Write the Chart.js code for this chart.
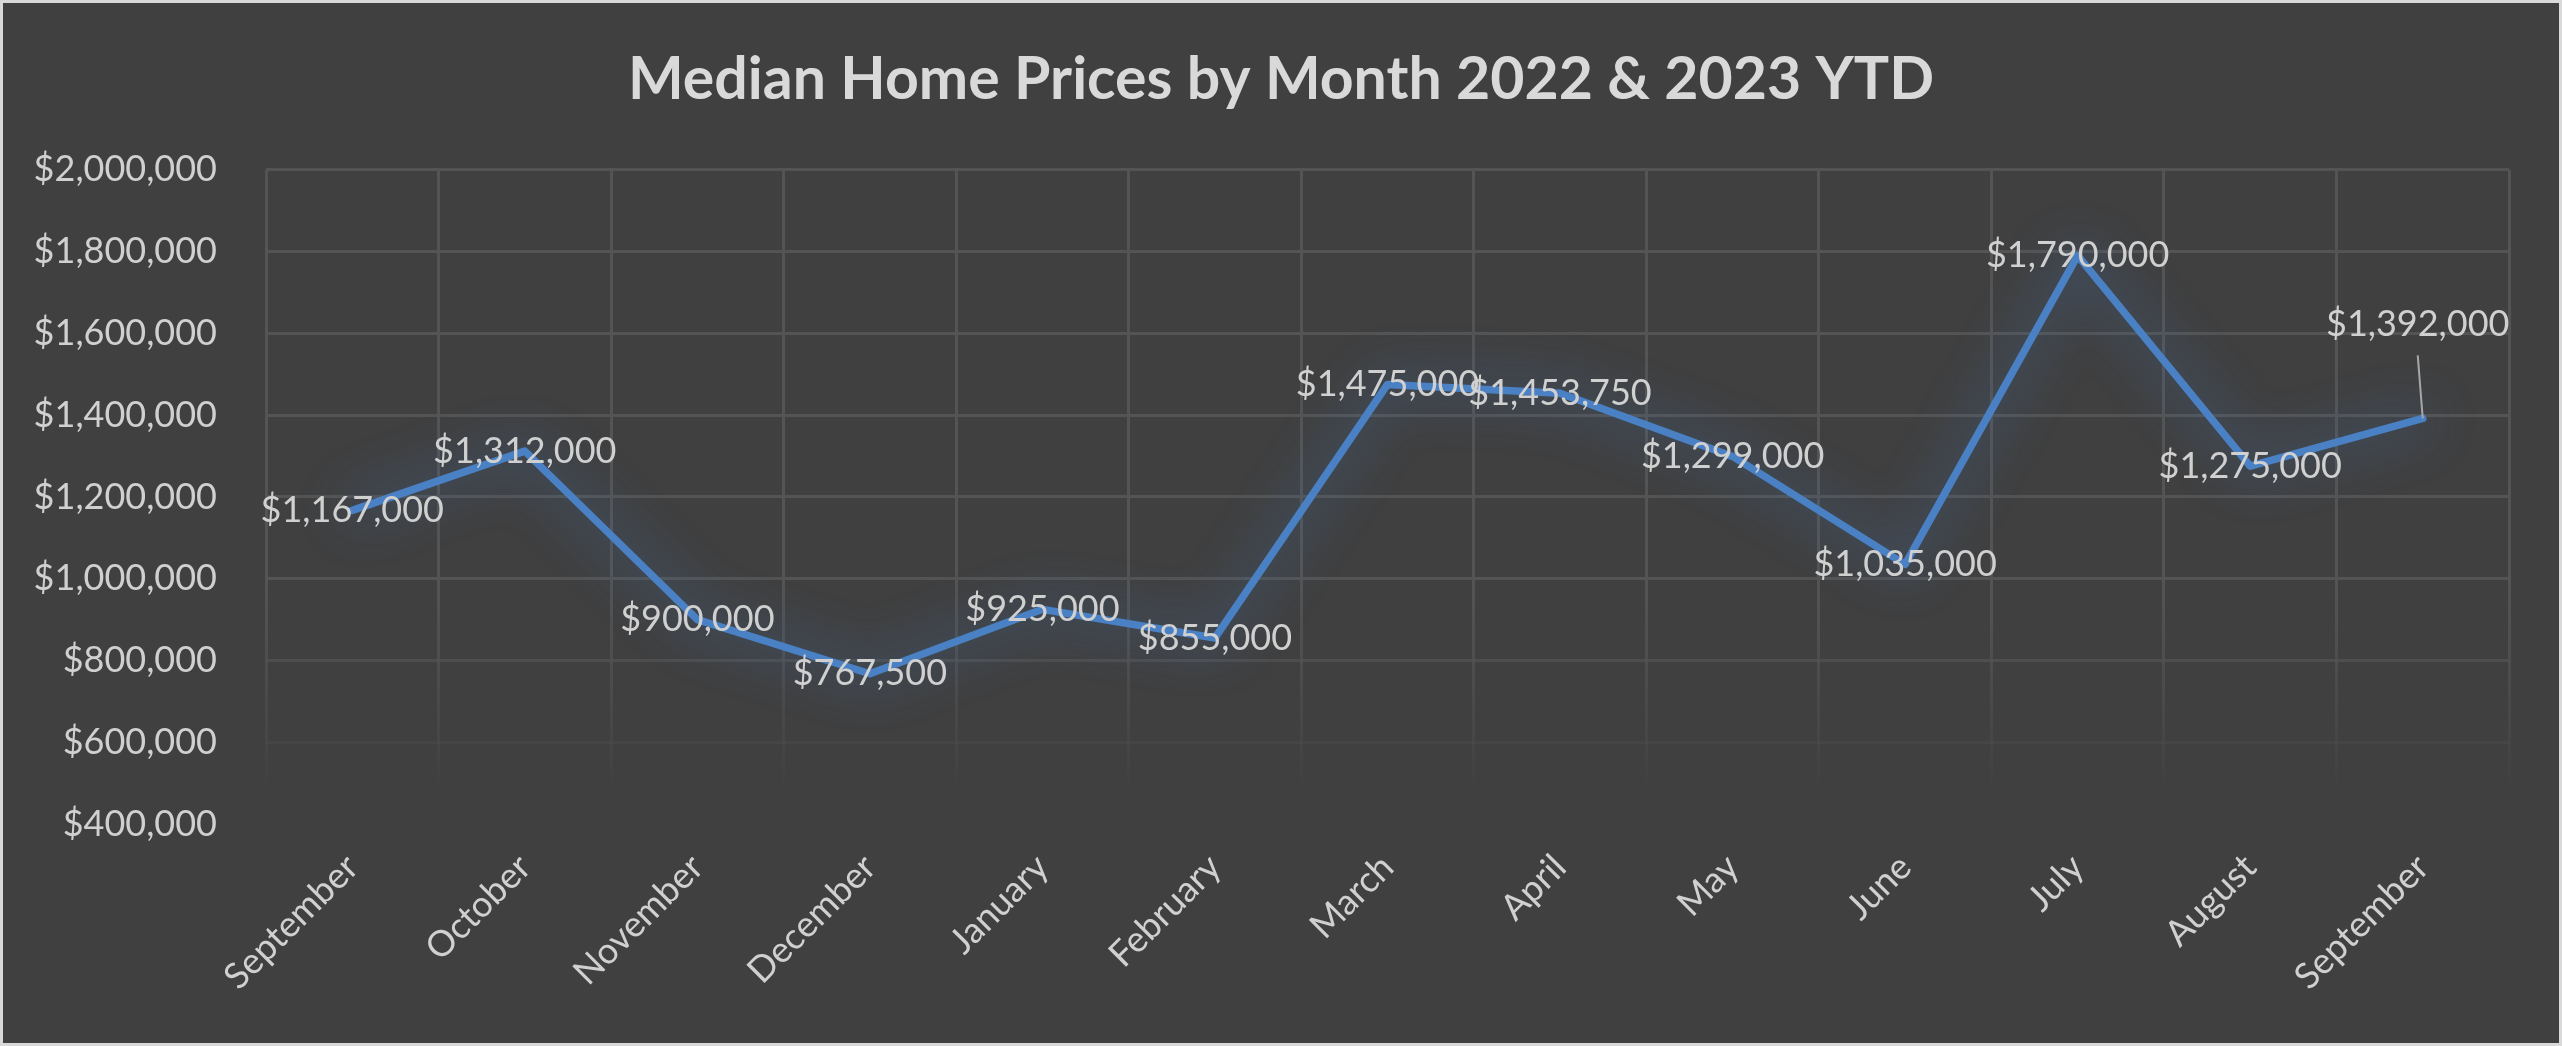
<!DOCTYPE html>
<html>
<head>
<meta charset="utf-8">
<script src="https://cdn.jsdelivr.net/npm/chart.js@4.4.0/dist/chart.umd.min.js"></script>
<style>
  html, body { margin: 0; padding: 0; background: #d9d9d9; }
  #wrap { position: absolute; left: 0; top: 0; width: 2562px; height: 1046px; box-sizing: border-box;
          border: 3px solid #d9d9d9; background: #404040; }
  #wrap canvas { display: block; }
</style>
</head>
<body>
<div id="wrap"><canvas id="c" width="2556" height="1040"></canvas></div>
<script>
const titleText = 'Median Home Prices by Month 2022 & 2023 YTD';
const months = ['September','October','November','December','January','February','March','April','May','June','July','August','September'];
const medianPrices = [1167000, 1312000, 900000, 767500, 925000, 855000, 1475000, 1453750, 1299000, 1035000, 1790000, 1275000, 1392000];
const yMin = 400000, yMax = 2000000, yStep = 200000;

const fontFamily = 'Lato, "Open Sans", "Noto Sans", sans-serif';
const labelColor = '#d0d0d0';
const gridRGB = '84,84,84';

function money(v) { return '$' + Math.round(v).toLocaleString('en-US'); }

const glowPlugin = {
  id: 'glow',
  beforeDatasetDraw(chart) {
    const ctx = chart.ctx;
    ctx.save();
    ctx.shadowColor = 'rgba(70,120,190,0.9)';
    ctx.shadowBlur = 50;
  },
  afterDatasetDraw(chart) { chart.ctx.restore(); }
};

const pointLabelPlugin = {
  id: 'pointLabels',
  afterDatasetsDraw(chart, args, opts) {
    const ctx = chart.ctx;
    const meta = chart.getDatasetMeta(0);
    const data = chart.data.datasets[0].data;
    ctx.save();
    ctx.font = opts.font;
    ctx.fillStyle = opts.color;
    ctx.textAlign = 'center';
    ctx.textBaseline = 'middle';
    meta.data.forEach((pt, i) => {
      const off = (opts.offsets && opts.offsets[i]) || {dx: 0, dy: 0};
      const x = pt.x + off.dx, y = pt.y + off.dy;
      if (off.leader) {
        ctx.save();
        ctx.strokeStyle = opts.leaderColor;
        ctx.lineWidth = 2;
        ctx.beginPath();
        ctx.moveTo(x, y + 31);
        ctx.lineTo(pt.x, pt.y);
        ctx.stroke();
        ctx.restore();
      }
      ctx.fillText(money(data[i]), x, y);
    });
    ctx.restore();
  }
};

function vGridColor(c) {
  const chart = c.chart, a = chart.chartArea;
  if (!a) return 'rgba(' + gridRGB + ',1)';
  const g = chart.ctx.createLinearGradient(0, a.top, 0, a.bottom);
  g.addColorStop(0, 'rgba(' + gridRGB + ',1)');
  g.addColorStop(0.63, 'rgba(' + gridRGB + ',1)');
  g.addColorStop(0.75, 'rgba(' + gridRGB + ',0.7)');
  g.addColorStop(0.875, 'rgba(' + gridRGB + ',0.3)');
  g.addColorStop(0.95, 'rgba(' + gridRGB + ',0)');
  g.addColorStop(1, 'rgba(' + gridRGB + ',0)');
  return g;
}
function hGridColor(c) {
  const v = c.tick ? c.tick.value : 0;
  if (v >= 1000000) return 'rgba(' + gridRGB + ',1)';
  if (v >= 800000) return 'rgba(' + gridRGB + ',0.7)';
  if (v >= 600000) return 'rgba(' + gridRGB + ',0.25)';
  return 'rgba(0,0,0,0)';
}

new Chart(document.getElementById('c'), {
  type: 'line',
  data: {
    labels: months,
    datasets: [{
      data: medianPrices,
      borderColor: '#4a80c4',
      borderWidth: 7.5,
      borderJoinStyle: 'round',
      borderCapStyle: 'round',
      pointRadius: 0,
      pointHoverRadius: 0,
      tension: 0,
      fill: false
    }]
  },
  options: {
    responsive: false,
    animation: false,
    events: [],
    layout: { padding: 0 },
    plugins: {
      legend: { display: false },
      tooltip: { enabled: false },
      title: {
        display: true,
        text: titleText,
        color: '#d9d9d9',
        font: { family: fontFamily, size: 59, weight: 'bold', lineHeight: 1.2 },
        padding: { top: 42, bottom: 54 }
      },
      pointLabels: {
        font: '36px ' + fontFamily,
        color: labelColor,
        leaderColor: '#a6a6a6',
        offsets: { 12: { dx: -5, dy: -94, leader: true } }
      }
    },
    scales: {
      x: {
        offset: true,
        grid: { offset: true, color: vGridColor, lineWidth: 3, drawTicks: false },
        border: { display: false },
        ticks: {
          color: labelColor,
          font: { family: fontFamily, size: 36 },
          minRotation: 45, maxRotation: 45,
          padding: 22,
          autoSkip: false
        },
        afterFit(s) { s.height = 219; }
      },
      y: {
        min: yMin, max: yMax,
        grid: { color: hGridColor, lineWidth: 3, drawTicks: false },
        border: { display: false },
        ticks: {
          stepSize: yStep,
          color: labelColor,
          font: { family: fontFamily, size: 36 },
          padding: 49,
          callback: (v) => money(v)
        },
        afterFit(s) { s.width = 263; }
      },
      yRightSpace: {
        position: 'right',
        display: true,
        grid: { display: false, drawTicks: false },
        border: { display: false },
        ticks: { display: false },
        afterFit(s) { s.width = 50; }
      }
    }
  },
  plugins: [glowPlugin, pointLabelPlugin]
});
</script>
</body>
</html>
